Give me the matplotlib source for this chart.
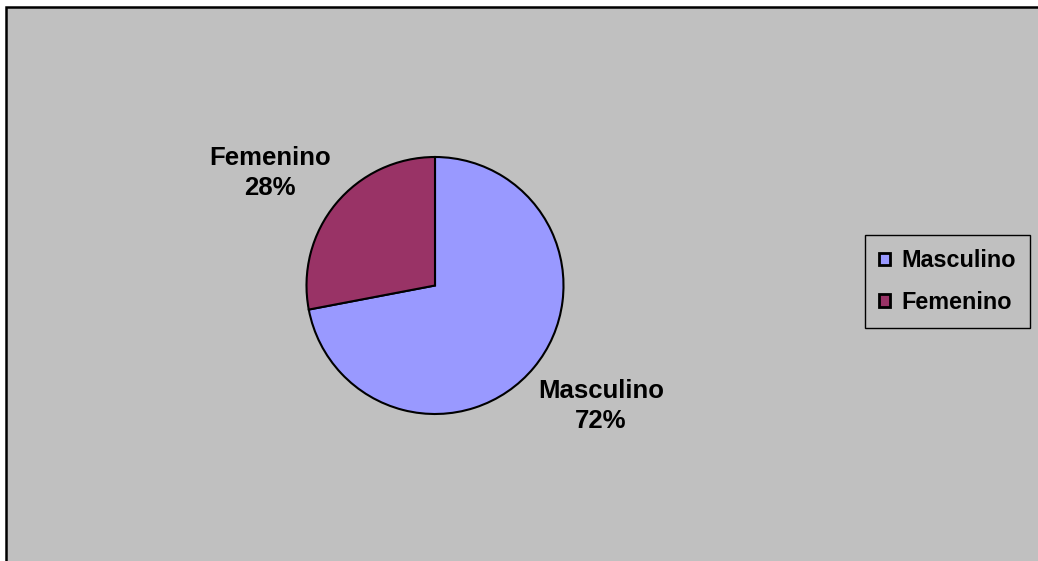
import matplotlib.pyplot as plt
from matplotlib.patches import Rectangle

plt.rcParams['font.family'] = ['Liberation Sans', 'DejaVu Sans']

categories = ['Masculino', 'Femenino']
shares = [72, 28]
colors = ['#9999FF', '#993366']

W, H = 1038, 561
fig = plt.figure(figsize=(W / 100, H / 100), dpi=100, facecolor='white')

# grey chart area with black frame (right/bottom run off the edge)
fig.patches.append(Rectangle((6 / W, -0.05), 1.1, (H - 7) / H + 0.05,
                             transform=fig.transFigure, facecolor='#C0C0C0',
                             edgecolor='black', linewidth=1.8, zorder=-5))

cx, cy, r = 435, 285.5, 128.5
ax = fig.add_axes([(cx - r) / W, (H - cy - r) / H, 2 * r / W, 2 * r / H])
ax.set_facecolor('none')
ax.set_zorder(2)

wedges, _ = ax.pie(shares, colors=colors, startangle=90, counterclock=False,
                   radius=1.0, wedgeprops=dict(edgecolor='black', linewidth=1.5))
ax.set_xlim(-1, 1)
ax.set_ylim(-1, 1)
ax.set_aspect('equal')
ax.axis('off')

label_pos = {'Masculino': (1.29, -0.935), 'Femenino': (-1.284, 0.878)}
for name, val in zip(categories, shares):
    x, y = label_pos[name]
    ax.text(x, y, f'{name}\n{val}%', ha='center', va='center', fontsize=18.5,
            fontweight='bold', linespacing=1.33, clip_on=False)

leg = fig.legend(wedges, categories, loc='center',
                 bbox_to_anchor=(947.5 / W, 1 - 281.5 / H),
                 prop=dict(size=16.8, weight='bold'), frameon=True,
                 fancybox=False, handlelength=0.45, handleheight=0.45,
                 handletextpad=0.5, labelspacing=0.8, borderpad=0.6,
                 borderaxespad=0)
leg.get_frame().set_facecolor('#C0C0C0')
leg.get_frame().set_edgecolor('black')
leg.get_frame().set_linewidth(1.0)
leg.get_frame().set_alpha(1)
for h in leg.legend_handles:
    h.set_linewidth(2.0)

fig.savefig('out.png', dpi=100, facecolor='white')
